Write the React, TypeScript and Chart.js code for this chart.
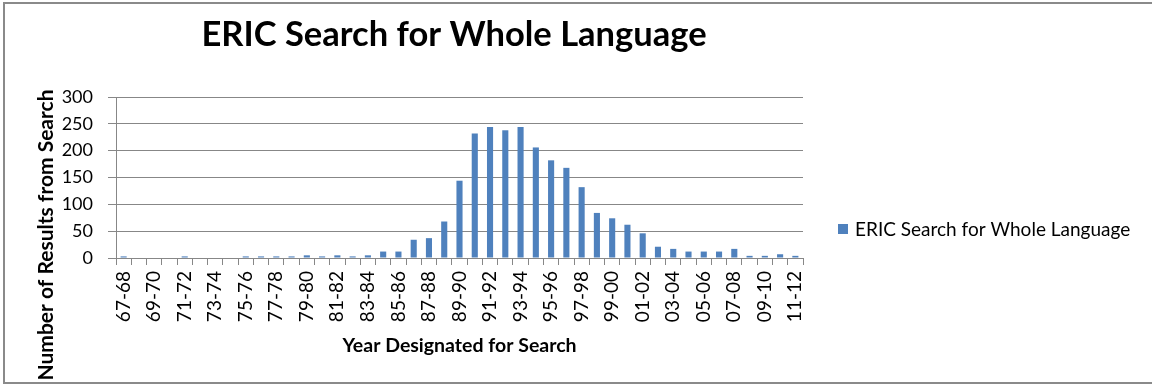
import React, { useEffect, useRef } from "react";
import { Chart, registerables } from "chart.js";

Chart.register(...registerables);

const chartTitle = "ERIC Search for Whole Language";
const seriesName = "ERIC Search for Whole Language";
const xAxisTitle = "Year Designated for Search";
const yAxisTitle = "Number of Results from Search";

const categories = [
  "67-68", "68-69", "69-70", "70-71", "71-72", "72-73", "73-74", "74-75", "75-76",
  "76-77", "77-78", "78-79", "79-80", "80-81", "81-82", "82-83", "83-84", "84-85",
  "85-86", "86-87", "87-88", "88-89", "89-90", "90-91", "91-92", "92-93", "93-94",
  "94-95", "95-96", "96-97", "97-98", "98-99", "99-00", "00-01", "01-02", "02-03",
  "03-04", "04-05", "05-06", "06-07", "07-08", "08-09", "09-10", "10-11", "11-12",
];

const values = [
  3, 0, 0, 0, 3, 0, 0, 0, 3,
  3, 3, 3, 5, 3, 5, 3, 5, 12,
  12, 34, 37, 68, 144, 232, 244, 238, 244,
  206, 182, 168, 132, 84, 74, 62, 46, 21,
  17, 12, 12, 12, 17, 4, 4, 7, 4,
];

const yTicks = [0, 50, 100, 150, 200, 250, 300];

const FONT = "Lato, 'Open Sans', sans-serif";
const BAR = "#4F81BD";
const GRID = "#878787";

const decor = {
  id: "decor",
  beforeDraw(chart: any) {
    const ctx = chart.ctx;
    ctx.save();
    ctx.fillStyle = "#ffffff";
    ctx.fillRect(0, 0, chart.width, chart.height);
    ctx.strokeStyle = "#8a8a8a";
    ctx.lineWidth = 2;
    ctx.beginPath();
    ctx.moveTo(chart.width + 2, 3);
    ctx.lineTo(4, 3);
    ctx.lineTo(4, 383);
    ctx.lineTo(chart.width + 2, 383);
    ctx.stroke();
    ctx.restore();
  },
  afterDraw(chart: any) {
    const ctx = chart.ctx;
    ctx.save();
    // chart title
    ctx.fillStyle = "#000000";
    ctx.font = `bold 34.5px ${FONT}`;
    ctx.textAlign = "center";
    ctx.textBaseline = "alphabetic";
    ctx.fillText(chartTitle, 454, 46);

    // y axis title
    ctx.save();
    ctx.translate(53, 235);
    ctx.rotate(-Math.PI / 2);
    ctx.font = `bold 21px ${FONT}`;
    ctx.textAlign = "center";
    ctx.textBaseline = "alphabetic";
    ctx.fillText(yAxisTitle, 0, 0);
    ctx.restore();

    // legend
    const ds = chart.data.datasets[0];
    ctx.fillStyle = ds.backgroundColor;
    ctx.fillRect(838, 224, 10, 10);
    ctx.fillStyle = "#000000";
    ctx.font = `19px ${FONT}`;
    ctx.textAlign = "left";
    ctx.textBaseline = "middle";
    ctx.fillText(ds.label, 855, 230);
    ctx.restore();
  },
};

export default function App() {
  const ref = useRef<HTMLCanvasElement | null>(null);

  useEffect(() => {
    document.body.style.margin = "0";
    const canvas = ref.current;
    if (!canvas) return;
    const chart = new Chart(canvas, {
      type: "bar",
      data: {
        labels: categories,
        datasets: [
          {
            label: seriesName,
            data: values,
            backgroundColor: BAR,
            borderWidth: 0,
            barPercentage: 0.4,
            categoryPercentage: 1,
          },
        ],
      },
      options: {
        responsive: false,
        animation: false,
        devicePixelRatio: 1,
        layout: { padding: { left: 0, top: 97, right: 349, bottom: 0 } },
        plugins: {
          legend: { display: false },
          title: { display: false },
          tooltip: { enabled: false },
        },
        scales: {
          x: {
            offset: true,
            grid: {
              offset: true,
              drawOnChartArea: false,
              drawTicks: true,
              tickLength: 7,
              color: GRID,
            },
            border: { display: true, color: GRID, width: 1 },
            ticks: {
              autoSkip: false,
              maxRotation: 90,
              minRotation: 90,
              padding: 6,
              color: "#000000",
              font: { family: FONT, size: 19 },
              callback: (_v: any, i: number) => (i % 2 === 0 ? categories[i] : ""),
            },
            title: {
              display: true,
              text: xAxisTitle,
              color: "#000000",
              font: { family: FONT, size: 19.5, weight: "bold" },
              padding: { top: 0, bottom: 28 },
            },
            afterFit: (scale: any) => {
              scale.height = 127;
              scale.paddingLeft = 0;
              scale.paddingRight = 0;
            },
          },
          y: {
            min: 0,
            max: 300,
            afterBuildTicks: (scale: any) => {
              scale.ticks = yTicks.map((v) => ({ value: v }));
            },
            grid: {
              color: GRID,
              drawTicks: true,
              tickLength: 8,
            },
            border: { display: true, color: GRID, width: 1 },
            ticks: {
              padding: 15,
              color: "#000000",
              font: { family: FONT, size: 18 },
            },
            afterFit: (scale: any) => {
              scale.width = 116;
            },
          },
        },
      },
      plugins: [decor],
    });
    return () => chart.destroy();
  }, []);

  return (
    <canvas
      ref={ref}
      width={1152}
      height={385}
      style={{ display: "block", width: 1152, height: 385 }}
    />
  );
}
